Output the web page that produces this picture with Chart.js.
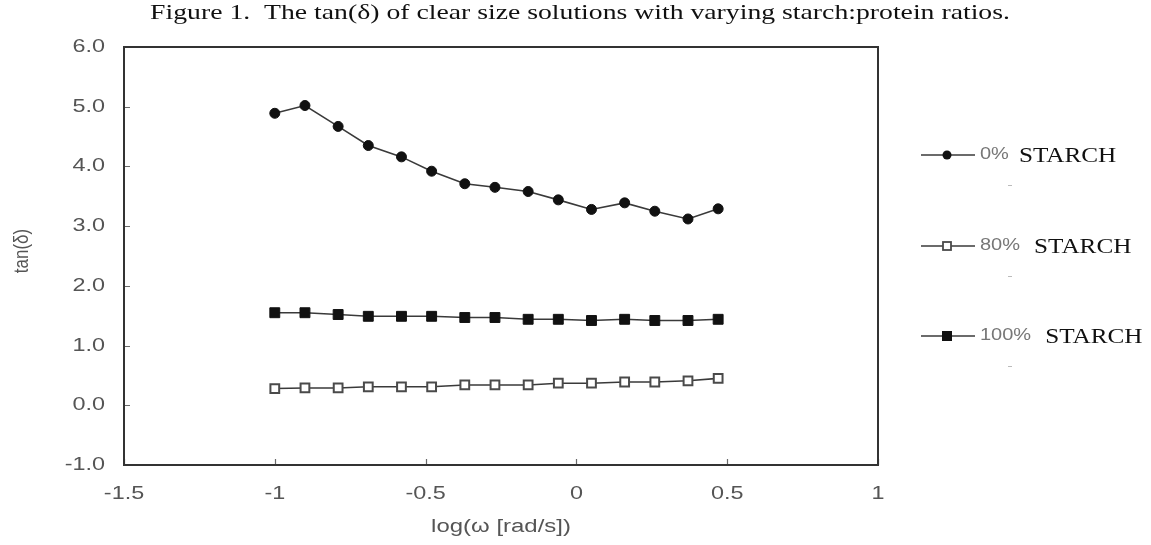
<!DOCTYPE html>
<html>
<head>
<meta charset="utf-8">
<script src="https://cdn.jsdelivr.net/npm/chart.js@4.4.1/dist/chart.umd.min.js"></script>
<style>
  html, body { margin: 0; padding: 0; background: #fff; }
  #wrap { position: relative; width: 1151px; height: 545px; }
  canvas { display: block; }
</style>
</head>
<body>
<div id="wrap"><canvas id="c" width="1151" height="545"></canvas></div>
<script>
// log10 of angular frequency (rad/s)
const logOmega = [-1.00, -0.90, -0.79, -0.69, -0.58, -0.48, -0.37, -0.27, -0.16, -0.06, 0.05, 0.16, 0.26, 0.37, 0.47];

// tan(delta) for each starch content
const tanStarch0   = [4.89, 5.02, 4.67, 4.35, 4.16, 3.92, 3.71, 3.65, 3.58, 3.44, 3.28, 3.39, 3.25, 3.12, 3.29];
const tanStarch80  = [0.28, 0.29, 0.29, 0.31, 0.31, 0.31, 0.34, 0.34, 0.34, 0.37, 0.37, 0.39, 0.39, 0.41, 0.45];
const tanStarch100 = [1.55, 1.55, 1.52, 1.49, 1.49, 1.49, 1.47, 1.47, 1.44, 1.44, 1.42, 1.44, 1.42, 1.42, 1.44];

const seriesPercent = ['0%', '80%', '100%'];
const seriesWord = 'STARCH';

const xTickValues = [-1.5, -1, -0.5, 0, 0.5, 1];
const yTickValues = [-1, 0, 1, 2, 3, 4, 5, 6];

const titleText = 'Figure 1.  The tan(\u03B4) of clear size solutions with varying starch:protein ratios.';
const xTitle = 'log(\u03C9 [rad/s])';
const yTitle = 'tan(\u03B4)';

const toPoints = ys => ys.map((y, i) => ({ x: logOmega[i], y }));

const LINE = '#3a3a3a';
const INK = '#111';
const GREY_TEXT = '#555';
const SANS = '"Liberation Sans", Arial, sans-serif';
const SERIF = '"Liberation Serif", "Times New Roman", serif';

const datasets = [
  { label: seriesPercent[0] + ' ' + seriesWord, data: toPoints(tanStarch0),
    borderColor: LINE, borderWidth: 1.6, pointStyle: 'circle', pointRadius: 5,
    pointBackgroundColor: INK, pointBorderColor: INK, pointBorderWidth: 1 },
  { label: seriesPercent[1] + ' ' + seriesWord, data: toPoints(tanStarch80),
    borderColor: LINE, borderWidth: 1.6, pointStyle: 'rect', pointRadius: 6.2,
    pointBackgroundColor: '#fff', pointBorderColor: '#4a4a4a', pointBorderWidth: 2 },
  { label: seriesPercent[2] + ' ' + seriesWord, data: toPoints(tanStarch100),
    borderColor: LINE, borderWidth: 1.6, pointStyle: 'rect', pointRadius: 7,
    pointBackgroundColor: INK, pointBorderColor: INK, pointBorderWidth: 1 }
];

// text drawn with a horizontal stretch factor
function stretchedText(ctx, text, x, y, font, color, sx, align) {
  ctx.save();
  ctx.font = font;
  ctx.fillStyle = color;
  ctx.textBaseline = 'middle';
  ctx.textAlign = 'left';
  const w = ctx.measureText(text).width * sx;
  let x0 = x;
  if (align === 'center') x0 = x - w / 2;
  else if (align === 'right') x0 = x - w;
  ctx.translate(x0, y);
  ctx.scale(sx, 1);
  ctx.fillText(text, 0, 0);
  ctx.restore();
  return w;
}

const framePlugin = {
  id: 'frame',
  beforeDatasetsDraw(chart) {
    const { ctx, chartArea: a, scales } = chart;
    ctx.save();
    // inner tick marks
    ctx.strokeStyle = '#6a6a6a';
    ctx.lineWidth = 1.2;
    ctx.beginPath();
    scales.y.ticks.forEach(t => {
      const py = Math.round(scales.y.getPixelForValue(t.value)) + 0.5;
      ctx.moveTo(a.left, py); ctx.lineTo(a.left + 6, py);
    });
    scales.x.ticks.forEach(t => {
      const px = Math.round(scales.x.getPixelForValue(t.value)) + 0.5;
      ctx.moveTo(px, a.bottom); ctx.lineTo(px, a.bottom - 6);
    });
    ctx.stroke();
    // plot box
    ctx.strokeStyle = '#333';
    ctx.lineWidth = 2;
    ctx.strokeRect(a.left, a.top, a.right - a.left, a.bottom - a.top);
    ctx.restore();

    // tick labels
    scales.y.ticks.forEach(t => {
      stretchedText(ctx, Number(t.value).toFixed(1), a.left - 19, scales.y.getPixelForValue(t.value),
        '18px ' + SANS, GREY_TEXT, 1.3, 'right');
    });
    scales.x.ticks.forEach(t => {
      stretchedText(ctx, String(t.value), scales.x.getPixelForValue(t.value), a.bottom + 29,
        '18px ' + SANS, GREY_TEXT, 1.3, 'center');
    });

    // axis titles
    stretchedText(ctx, xTitle, (a.left + a.right) / 2, 527, '18px ' + SANS, GREY_TEXT, 1.33, 'center');
    ctx.save();
    ctx.translate(22, 251);
    ctx.rotate(-Math.PI / 2);
    ctx.scale(1, 1.2);
    stretchedText(ctx, yTitle, 0, 0, '17px ' + SANS, GREY_TEXT, 1.0, 'center');
    ctx.restore();
  },
  afterDraw(chart) {
    const { ctx } = chart;
    // caption
    stretchedText(ctx, titleText, 580, 13, '22px ' + SERIF, '#111', 1.26, 'center');

    // legend
    const rows = [155, 246, 336];
    const lineX0 = 921, lineX1 = 975, markX = 947;
    chart.data.datasets.forEach((ds, i) => {
      const y = rows[i];
      ctx.save();
      ctx.strokeStyle = ds.borderColor;
      ctx.lineWidth = 1.6;
      ctx.beginPath();
      ctx.moveTo(lineX0, y); ctx.lineTo(lineX1, y);
      ctx.stroke();
      ctx.fillStyle = ds.pointBackgroundColor;
      ctx.strokeStyle = ds.pointBorderColor;
      if (ds.pointStyle === 'circle') {
        ctx.beginPath();
        ctx.arc(markX, y, 4.5, 0, Math.PI * 2);
        ctx.fill();
      } else if (ds.pointBackgroundColor === '#fff') {
        ctx.lineWidth = 1.8;
        ctx.fillRect(markX - 4, y - 4, 8, 8);
        ctx.strokeRect(markX - 4, y - 4, 8, 8);
      } else {
        ctx.fillRect(markX - 5, y - 5, 10, 10);
      }
      ctx.restore();
      const wPct = stretchedText(ctx, seriesPercent[i], 980, y, '16px ' + SANS, '#777', 1.25, 'left');
      const gap = [10, 14, 14][i];
      stretchedText(ctx, seriesWord, 980 + wPct + gap, y + 1, '21px ' + SERIF, '#111', 1.2, 'left');
      // small stray dash beneath each entry
      ctx.save();
      ctx.strokeStyle = '#bbb';
      ctx.lineWidth = 1;
      ctx.beginPath();
      ctx.moveTo(1008, y + 30.5); ctx.lineTo(1012, y + 30.5);
      ctx.stroke();
      ctx.restore();
    });
  }
};

new Chart(document.getElementById('c'), {
  type: 'scatter',
  data: { datasets: datasets.map(d => Object.assign({ showLine: true, fill: false, tension: 0 }, d)) },
  options: {
    responsive: false,
    animation: false,
    layout: { padding: { top: 47, right: 273, left: 0, bottom: 0 } },
    plugins: { legend: { display: false }, tooltip: { enabled: false }, title: { display: false } },
    scales: {
      x: {
        type: 'linear', min: -1.5, max: 1,
        afterBuildTicks: s => { s.ticks = xTickValues.map(v => ({ value: v })); },
        afterFit: s => { s.height = 80; },
        grid: { display: false, drawTicks: false },
        border: { display: false },
        ticks: { display: false }
      },
      y: {
        type: 'linear', min: -1, max: 6,
        afterBuildTicks: s => { s.ticks = yTickValues.map(v => ({ value: v })); },
        afterFit: s => { s.width = 124; },
        grid: { display: false, drawTicks: false },
        border: { display: false },
        ticks: { display: false }
      }
    }
  },
  plugins: [framePlugin]
});
</script>
</body>
</html>
